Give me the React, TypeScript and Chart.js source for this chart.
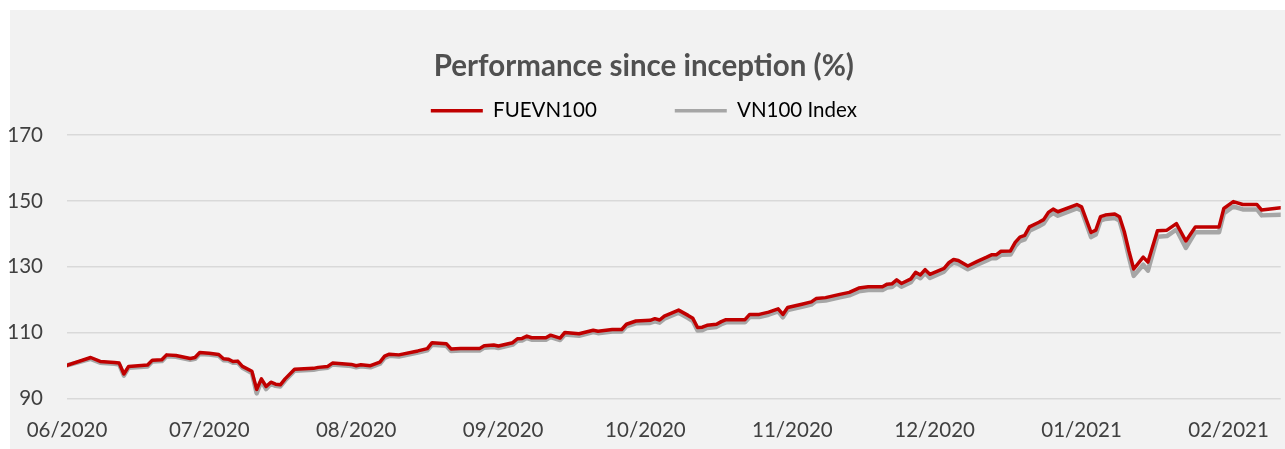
import React, { useEffect, useRef } from "react";
import { Chart, registerables } from "chart.js";

Chart.register(...registerables);

const TITLE = "Performance since inception (%)";
const SERIES_NAMES = ["FUEVN100", "VN100 Index"];
const SERIES_COLORS = ["#C00000", "#A6A6A6"];

// x tick positions: days since 01/06/2020 at each month start
const MONTH_DAYS = [0, 30, 61, 92, 122, 153, 183, 214, 245];
const MONTH_LABELS = ["06/2020", "07/2020", "08/2020", "09/2020", "10/2020", "11/2020", "12/2020", "01/2021", "02/2021"];
const X_MAX_DAY = 256;
const Y_MIN = 90;
const Y_MAX = 170;
const Y_STEP = 20;

// observation days (days since 01/06/2020)
const DAYS = [
  0, 5, 7, 10, 11, 12, 13, 17, 18, 20,
  21, 23, 26, 27, 28, 30, 32, 33, 34, 35,
  36, 37, 39, 40, 41, 42, 43, 44, 45, 46,
  48, 52, 53, 55, 56, 60, 61, 62, 64, 66,
  67, 68, 70, 74, 76, 77, 80, 81, 83, 87,
  88, 90, 91, 94, 95, 96, 97, 98, 101, 102,
  104, 105, 108, 111, 112, 115, 117, 118, 120, 123,
  124, 125, 126, 129, 131, 132, 133, 134, 135, 137,
  138, 139, 143, 144, 146, 148, 150, 151, 152, 155,
  157, 158, 160, 163, 165, 167, 169, 172, 173, 174,
  175, 176, 178, 179, 180, 181, 182, 185, 186, 187,
  188, 190, 192, 194, 195, 196, 197, 199, 200, 201,
  202, 203, 205, 206, 207, 208, 209, 213, 214, 216,
  217, 218, 219, 221, 222, 223, 224, 225, 227, 228,
  230, 232, 234, 236, 238, 243, 244, 246, 248, 251,
  252, 256,
];

const FUEVN100 = [
  100.0, 102.4, 101.2, 100.9, 100.7, 97.4, 99.7, 100.1, 101.6, 101.7,
  103.2, 103.0, 102.1, 102.4, 103.9, 103.7, 103.3, 102.0, 101.9, 101.2,
  101.3, 99.7, 98.2, 92.7, 95.9, 93.6, 94.9, 94.3, 94.1, 95.9,
  98.8, 99.1, 99.4, 99.7, 100.7, 100.3, 99.9, 100.2, 99.9, 101.0,
  102.8, 103.4, 103.2, 104.4, 105.1, 106.9, 106.6, 105.0, 105.1, 105.1,
  106.0, 106.2, 105.9, 106.9, 108.1, 108.2, 108.9, 108.4, 108.4, 109.2,
  108.3, 110.0, 109.6, 110.7, 110.4, 110.9, 110.9, 112.5, 113.5, 113.7,
  114.2, 113.8, 115.0, 116.8, 115.2, 114.3, 111.5, 111.6, 112.2, 112.5,
  113.3, 113.9, 113.9, 115.5, 115.5, 116.2, 117.2, 115.5, 117.6, 118.6,
  119.3, 120.3, 120.6, 121.6, 122.2, 123.5, 123.9, 123.9, 124.7, 124.8,
  126.0, 124.9, 126.3, 128.3, 127.5, 129.1, 127.7, 129.5, 131.2, 132.2,
  131.9, 130.2, 131.6, 132.9, 133.6, 133.6, 134.7, 134.8, 137.4, 139.0,
  139.5, 142.1, 143.5, 144.3, 146.5, 147.5, 146.7, 148.9, 148.2, 140.4,
  141.1, 145.2, 145.7, 146.0, 145.2, 140.7, 134.7, 129.3, 132.9, 131.4,
  140.9, 141.1, 143.1, 137.8, 142.1, 142.1, 147.7, 149.8, 148.9, 148.9,
  147.2, 147.9,
];

const VN100 = [
  100.0, 102.0, 100.8, 100.5, 100.3, 96.9, 99.3, 99.7, 101.2, 101.3,
  102.8, 102.6, 101.7, 102.0, 103.5, 103.3, 102.9, 101.6, 101.5, 100.8,
  100.9, 99.3, 97.7, 91.5, 95.3, 92.8, 94.4, 93.8, 93.6, 95.4,
  98.4, 98.7, 99.0, 99.3, 100.3, 99.8, 99.4, 99.7, 99.4, 100.5,
  102.3, 102.9, 102.7, 103.9, 104.6, 106.3, 106.0, 104.4, 104.5, 104.5,
  105.4, 105.6, 105.3, 106.3, 107.5, 107.6, 108.3, 107.8, 107.8, 108.6,
  107.7, 109.4, 109.0, 110.1, 109.8, 110.3, 110.3, 111.9, 112.8, 112.9,
  113.4, 113.0, 114.2, 116.0, 114.4, 113.5, 110.6, 110.7, 111.4, 111.7,
  112.5, 113.1, 113.1, 114.7, 114.7, 115.4, 116.4, 114.6, 116.8, 117.8,
  118.5, 119.5, 119.7, 120.7, 121.3, 122.5, 122.9, 122.9, 123.7, 123.8,
  125.0, 123.9, 125.3, 127.3, 126.5, 128.1, 126.6, 128.5, 130.2, 131.2,
  130.9, 129.2, 130.6, 131.9, 132.6, 132.6, 133.6, 133.7, 136.2, 137.8,
  138.3, 140.9, 142.3, 143.1, 145.3, 146.3, 145.5, 147.7, 147.1, 139.0,
  139.8, 144.0, 144.5, 144.8, 144.0, 139.0, 132.8, 127.2, 130.6, 128.8,
  139.1, 139.3, 141.3, 135.7, 140.5, 140.5, 146.2, 148.3, 147.4, 147.4,
  145.6, 145.8,
];

const FONT = "Lato, 'Open Sans', sans-serif";

const backgroundPlugin = {
  id: "panelBackground",
  beforeDraw(chart: any) {
    const { ctx, width, height } = chart;
    ctx.save();
    ctx.fillStyle = "#F2F2F2";
    ctx.fillRect(10, 10, width - 10, height - 10);
    ctx.restore();
  },
};

export default function App() {
  const canvasRef = useRef<HTMLCanvasElement | null>(null);

  useEffect(() => {
    const canvas = canvasRef.current;
    if (!canvas) return;
    const chart = new Chart(canvas, {
      type: "line",
      data: {
        datasets: [
          {
            label: SERIES_NAMES[0],
            data: DAYS.map((d, i) => ({ x: d, y: FUEVN100[i] })),
            borderColor: SERIES_COLORS[0],
            backgroundColor: SERIES_COLORS[0],
            borderWidth: 3.5,
            pointRadius: 0,
            tension: 0,
            borderJoinStyle: "round",
            borderCapStyle: "round",
          },
          {
            label: SERIES_NAMES[1],
            data: DAYS.map((d, i) => ({ x: d, y: VN100[i] })),
            borderColor: SERIES_COLORS[1],
            backgroundColor: SERIES_COLORS[1],
            borderWidth: 4.5,
            pointRadius: 0,
            tension: 0,
            borderJoinStyle: "round",
            borderCapStyle: "round",
          },
        ],
      },
      options: {
        responsive: false,
        devicePixelRatio: 1,
        animation: false,
        layout: { padding: { left: 7, right: 4.3, top: 0, bottom: 0 } },
        plugins: {
          title: {
            display: true,
            text: TITLE,
            color: "#505050",
            font: { family: FONT, size: 29.5, weight: "bold" },
            padding: { top: 49, bottom: -61.8 },
          },
          legend: {
            display: true,
            position: "top",
            labels: {
              boxWidth: 52,
              boxHeight: 3.5,
              padding: 78,
              color: "#404040",
              font: { family: FONT, size: 20.5 },
              generateLabels: (c: any) =>
                c.data.datasets.map((ds: any, i: number) => ({
                  text: ds.label,
                  fillStyle: ds.borderColor,
                  strokeStyle: ds.borderColor,
                  lineWidth: 0,
                  hidden: false,
                  datasetIndex: i,
                })),
            },
          },
          tooltip: { enabled: false },
        },
        scales: {
          x: {
            type: "linear",
            min: 0,
            max: X_MAX_DAY,
            grid: { display: false, drawTicks: false },
            border: { display: false },
            afterBuildTicks: (scale: any) => {
              scale.ticks = MONTH_DAYS.map((v) => ({ value: v }));
            },
            afterFit: (scale: any) => {
              scale.height = 50.7;
              scale.paddingLeft = 0;
              scale.paddingRight = 0;
            },
            ticks: {
              autoSkip: false,
              maxRotation: 0,
              padding: 20,
              color: "#404040",
              font: { family: FONT, size: 20.5 },
              callback: (value: any) => {
                const idx = MONTH_DAYS.indexOf(Number(value));
                return idx >= 0 ? MONTH_LABELS[idx] : "";
              },
            },
          },
          spacer: {
            type: "linear",
            position: "top",
            display: true,
            grid: { display: false, drawTicks: true, tickLength: 4 },
            ticks: { display: false },
            border: { display: false },
          },
          y: {
            type: "linear",
            min: Y_MIN,
            max: Y_MAX,
            grid: { color: "#D9D9D9", lineWidth: 1.5, drawTicks: false },
            border: { display: false },
            afterFit: (scale: any) => {
              scale.width = 60;
            },
            ticks: {
              stepSize: Y_STEP,
              padding: 24,
              color: "#404040",
              font: { family: FONT, size: 20.5 },
            },
          },
        },
      },
      plugins: [backgroundPlugin],
    } as any);
    return () => chart.destroy();
  }, []);

  return (
    <div style={{ position: "fixed", left: 0, top: 0, width: 1285, height: 449, background: "#FFFFFF" }}>
      <canvas ref={canvasRef} width={1285} height={449} style={{ display: "block" }} />
    </div>
  );
}
